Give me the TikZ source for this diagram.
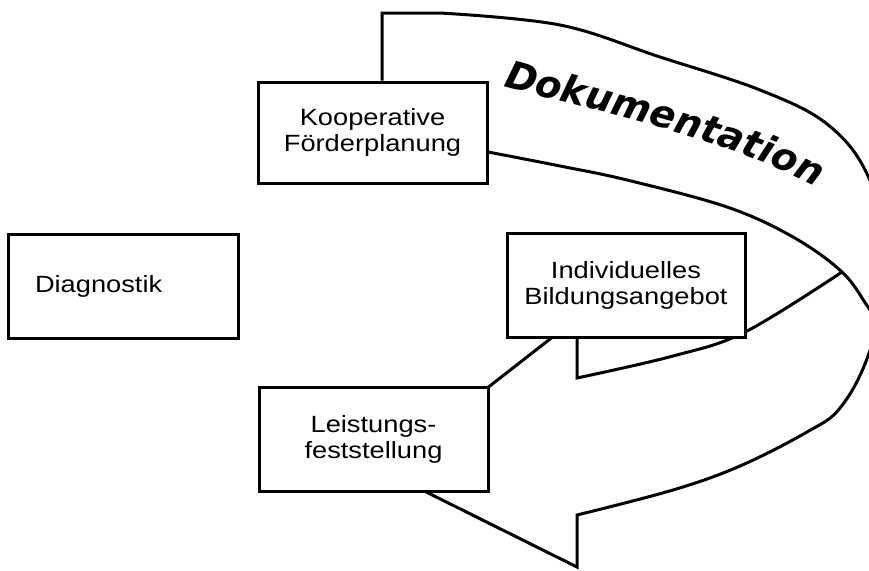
\documentclass[tikz,border=0pt]{standalone}
\usepackage{fontspec}
\setmainfont{Liberation Sans}
\newfontfamily\boxfont{Liberation Sans}[FakeStretch=1.16]
\newfontfamily\dokfont{DejaVu Sans}
\usetikzlibrary{decorations.text,backgrounds}
\begin{document}
\begin{tikzpicture}[x=1pt,y=-1pt,
  box/.style={draw=black, fill=white, line width=3pt, inner sep=0pt,
    font=\boxfont\fontsize{23.5}{26}\selectfont, align=center},
  band/.style={draw=black, line width=3pt, line join=miter}]
\useasboundingbox (0,0) rectangle (869,570);

\node[box, minimum width=230pt, minimum height=104pt, text width=176pt, inner xsep=27pt, align=left] (diag) at (123,286) {Diagnostik};
\node[box, minimum width=229pt, minimum height=101pt] (kfp) at (372.5,132.5) {Kooperative\\Förderplanung};
\node[box, minimum width=238pt, minimum height=104pt] (ib) at (626,285) {Individuelles\\Bildungsangebot};
\node[box, minimum width=229pt, minimum height=104pt] (lf) at (373.5,439) {Leistungs-\\feststellung};

\begin{scope}[on background layer]
\clip (0,0) rectangle (869,570);
% outer contour of the curved arrow
\draw[band] ([xshift=9.5pt]kfp.north) -- (382,13) -- plot[smooth, tension=0.6] coordinates {(440,13) (560,25) (660,57) (760,90) (827,124) (868,176) (892,265) (868,356) (840,408) (807,432) (740,466) (673,490) (577,515)} -- (577,567) -- (382,470) -- (577,318) -- (577,378) -- plot[smooth, tension=0.6] coordinates {(577,378) (673,356) (745,332) (842,272)};
% inner edge of the upper band
\draw[band] ([yshift=-19.5pt]kfp.east) -- plot[smooth, tension=0.6] coordinates {(488,152) (560,166) (627,180) (727,207) (793,237) (842,272) (868,307) (890,340)};
\end{scope}

\path[decorate, decoration={text along path, text align=left,
  text={|\dokfont\fontsize{38}{40}\selectfont\bfseries\itshape|Dokumentation}}]
  (503,86) .. controls (620,118) and (740,140) .. (850,205);
\end{tikzpicture}
\end{document}
